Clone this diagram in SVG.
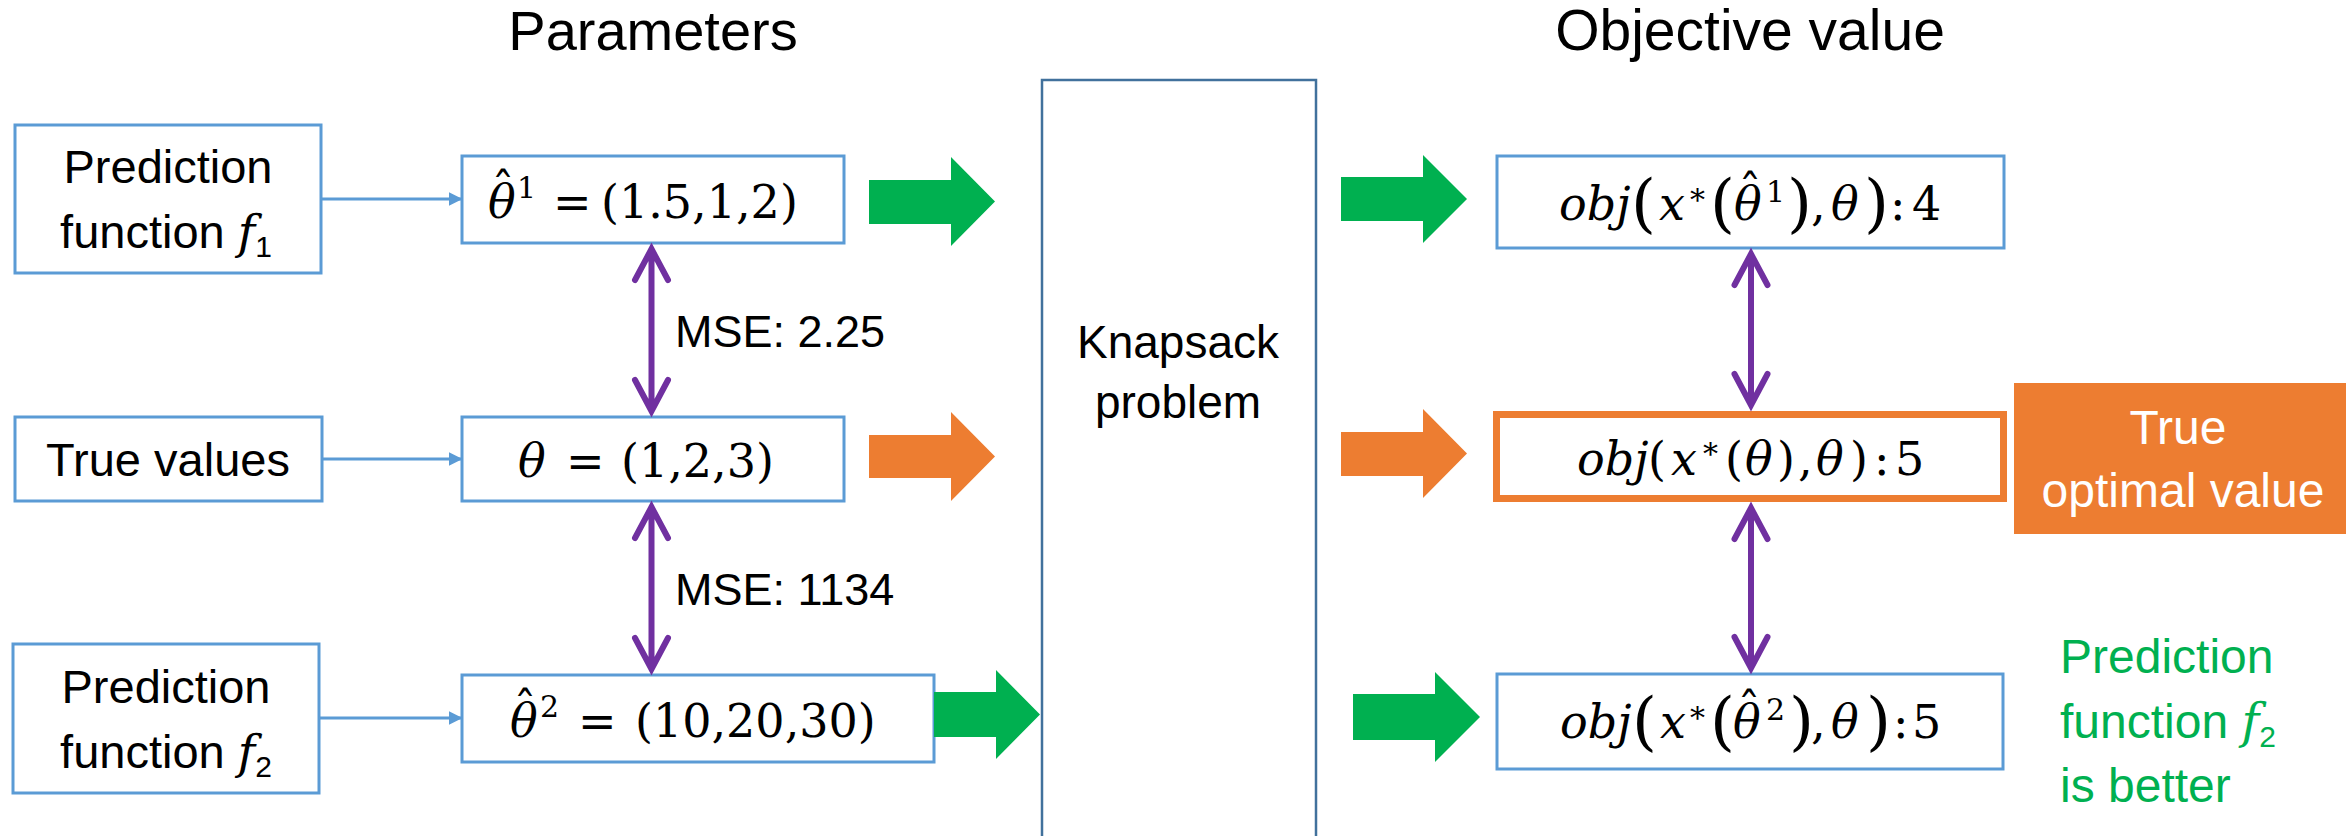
<svg xmlns="http://www.w3.org/2000/svg" width="2346" height="836" viewBox="0 0 2346 836">
  <style>
    .box { fill: #ffffff; stroke: #5B9BD5; stroke-width: 3; }
    .solver { fill: #ffffff; stroke: #41719C; stroke-width: 2.5; }
    .lbl { font-family: "Liberation Sans", Arial, sans-serif; font-size: 47px; fill: #000000; }
    .s45 { font-size: 45px; }
    .s46 { font-size: 46px; }
    .s48 { font-size: 48px; }
    .title { font-family: "Liberation Sans", Arial, sans-serif; font-size: 56px; fill: #000000; }
    .wide { font-size: 57px; }
    .on-orange { fill: #ffffff; }
    .good { fill: #00B050; }
    .math { font-family: "DejaVu Serif", serif; font-size: 46px; fill: #000000; }
    .it { font-style: italic; }
    .hat { font-style: normal; }
    .fn { font-family: "DejaVu Serif", serif; font-style: italic; }
    .sub { font-size: 30px; }
    .sup { font-size: 30px; }
    .big { font-size: 64px; }
    .link { stroke: #5B9BD5; stroke-width: 3; fill: none; marker-end: url(#tri); }
    .mse { stroke: #7030A0; stroke-width: 6; fill: none; stroke-linecap: round; stroke-linejoin: miter; }
    .green { fill: #00B050; }
    .orange { fill: #ED7D31; }
  </style>
  <defs>
    <marker id="tri" viewBox="0 0 10 10" refX="9" refY="5" markerWidth="4.5" markerHeight="4.5" orient="auto" markerUnits="strokeWidth">
      <path d="M0,0 L10,5 L0,10 z" fill="#5B9BD5"/>
    </marker>
  </defs>

  <rect width="2346" height="836" fill="#ffffff"/>

  <!-- column headings -->
  <text class="title" x="653" y="50" text-anchor="middle">Parameters</text>
  <text class="title wide" x="1750" y="50" text-anchor="middle">Objective value</text>

  <!-- prediction / truth sources -->
  <g id="pred-f1">
    <rect class="box" x="15" y="125" width="306" height="148"/>
    <text class="lbl" x="168" y="183" text-anchor="middle">Prediction</text>
    <text class="lbl" x="166" y="248" text-anchor="middle">function <tspan class="fn">f</tspan><tspan class="sub" dy="9">1</tspan></text>
  </g>
  <g id="true-values">
    <rect class="box" x="15" y="417" width="307" height="84"/>
    <text class="lbl" x="168" y="476" text-anchor="middle">True values</text>
  </g>
  <g id="pred-f2">
    <rect class="box" x="13" y="644" width="306" height="149"/>
    <text class="lbl" x="166" y="703" text-anchor="middle">Prediction</text>
    <text class="lbl" x="166" y="768" text-anchor="middle">function <tspan class="fn">f</tspan><tspan class="sub" dy="9">2</tspan></text>
  </g>

  <!-- parameter vectors (hat drawn as a raised circumflex over theta) -->
  <g id="theta-hat-1">
    <rect class="box" x="462" y="156" width="382" height="87"/>
    <text class="math" y="218"><tspan class="it" x="488">θ</tspan><tspan class="hat" x="491.5" y="206">ˆ</tspan><tspan class="sup" x="517" y="198">1</tspan><tspan x="553" y="218">=</tspan><tspan x="601">(1.5,1,2)</tspan></text>
  </g>
  <g id="theta-true">
    <rect class="box" x="462" y="417" width="382" height="84"/>
    <text class="math" y="477"><tspan class="it" x="518">θ</tspan><tspan x="566">=</tspan><tspan x="621">(1,2,3)</tspan></text>
  </g>
  <g id="theta-hat-2">
    <rect class="box" x="462" y="675" width="472" height="87"/>
    <text class="math" y="737"><tspan class="it" x="510">θ</tspan><tspan class="hat" x="513.5" y="725">ˆ</tspan><tspan class="sup" x="540" y="717">2</tspan><tspan x="578" y="737">=</tspan><tspan x="635">(10,20,30)</tspan></text>
  </g>

  <!-- solver -->
  <g id="knapsack">
    <rect class="solver" x="1042" y="80" width="274" height="800"/>
    <text class="lbl s46" x="1178" y="358" text-anchor="middle">Knapsack</text>
    <text class="lbl s46" x="1178" y="418" text-anchor="middle">problem</text>
  </g>

  <!-- objective values -->
  <g id="obj-1">
    <rect class="box" x="1497" y="156" width="507" height="92"/>
    <text class="math" y="220"><tspan class="it" x="1559">obj</tspan><tspan class="big" x="1631" y="225">(</tspan><tspan class="it" x="1659" y="220">x</tspan><tspan class="sup" x="1690" y="210">*</tspan><tspan class="big" x="1710" y="225">(</tspan><tspan class="it" x="1734" y="220">θ</tspan><tspan class="hat" x="1738.5" y="208">ˆ</tspan><tspan class="sup" x="1766" y="202">1</tspan><tspan class="big" x="1787" y="225">)</tspan><tspan x="1811" y="220">,</tspan><tspan class="it" x="1831">θ</tspan><tspan class="big" x="1864" y="225">)</tspan><tspan x="1890" y="220">:</tspan><tspan x="1912">4</tspan></text>
  </g>
  <g id="obj-true">
    <rect x="1496.5" y="414.5" width="507" height="84" fill="#ffffff" stroke="#ED7D31" stroke-width="7"/>
    <text class="math" y="475"><tspan class="it" x="1577">obj</tspan><tspan x="1648">(</tspan><tspan class="it" x="1671">x</tspan><tspan class="sup" x="1703" y="464">*</tspan><tspan x="1725" y="475">(</tspan><tspan class="it" x="1745">θ</tspan><tspan x="1777">)</tspan><tspan x="1798">,</tspan><tspan class="it" x="1816">θ</tspan><tspan x="1850">)</tspan><tspan x="1874">:</tspan><tspan x="1895">5</tspan></text>
  </g>
  <g id="obj-2">
    <rect class="box" x="1497" y="674" width="506" height="95"/>
    <text class="math" y="738"><tspan class="it" x="1560">obj</tspan><tspan class="big" x="1632" y="743">(</tspan><tspan class="it" x="1660" y="738">x</tspan><tspan class="sup" x="1690" y="728">*</tspan><tspan class="big" x="1710" y="743">(</tspan><tspan class="it" x="1733" y="738">θ</tspan><tspan class="hat" x="1737.5" y="726">ˆ</tspan><tspan class="sup" x="1766" y="720">2</tspan><tspan class="big" x="1789" y="743">)</tspan><tspan x="1811" y="738">,</tspan><tspan class="it" x="1831">θ</tspan><tspan class="big" x="1866" y="743">)</tspan><tspan x="1893" y="738">:</tspan><tspan x="1912">5</tspan></text>
  </g>

  <!-- annotations -->
  <g id="true-optimal">
    <rect x="2014" y="383" width="340" height="151" fill="#ED7D31"/>
    <text class="lbl s48 on-orange" x="2178" y="444" text-anchor="middle">True</text>
    <text class="lbl s48 on-orange" x="2183" y="507" text-anchor="middle">optimal value</text>
  </g>
  <g id="verdict">
    <text class="lbl s48 good" x="2060" y="673">Prediction</text>
    <text class="lbl s48 good" x="2060" y="738">function <tspan class="fn">f</tspan><tspan class="sub" dy="9">2</tspan></text>
    <text class="lbl s48 good" x="2060" y="802">is better</text>
  </g>

  <!-- connectors -->
  <g id="connectors">
    <!-- source to parameter -->
    <line class="link" x1="321" y1="199" x2="461" y2="199"/>
    <line class="link" x1="322" y1="459" x2="461" y2="459"/>
    <line class="link" x1="319" y1="718" x2="461" y2="718"/>

    <!-- parameters into solver -->
    <polygon class="green" points="869,180 951,180 951,157 995,201.5 951,246 951,224 869,224"/>
    <polygon class="orange" points="869,435 951,435 951,412 995,456.5 951,501 951,478 869,478"/>
    <polygon class="green" points="934,692 996,692 996,670 1040,714.5 996,759 996,737 934,737"/>

    <!-- solver to objective values -->
    <polygon class="green" points="1341,177 1423,177 1423,155 1467,199 1423,243 1423,221 1341,221"/>
    <polygon class="orange" points="1341,432 1423,432 1423,409 1467,453.5 1423,498 1423,476 1341,476"/>
    <polygon class="green" points="1353,694 1435,694 1435,672 1480,717 1435,762 1435,740 1353,740"/>

    <!-- MSE comparisons -->
    <path class="mse" d="M651.5,250 V410 M635,280 L651.5,249 L668,280 M635,380 L651.5,411 L668,380"/>
    <path class="mse" d="M651.5,508 V668 M635,538 L651.5,507 L668,538 M635,638 L651.5,669 L668,638"/>
    <text class="lbl s45" x="675" y="347">MSE: 2.25</text>
    <text class="lbl s45" x="675" y="605">MSE: 1134</text>

    <!-- objective comparisons -->
    <path class="mse" d="M1751,255 V404 M1734.5,285 L1751,254 L1767.5,285 M1734.5,374 L1751,405 L1767.5,374"/>
    <path class="mse" d="M1751,509 V667 M1734.5,539 L1751,508 L1767.5,539 M1734.5,637 L1751,668 L1767.5,637"/>
  </g>
</svg>
